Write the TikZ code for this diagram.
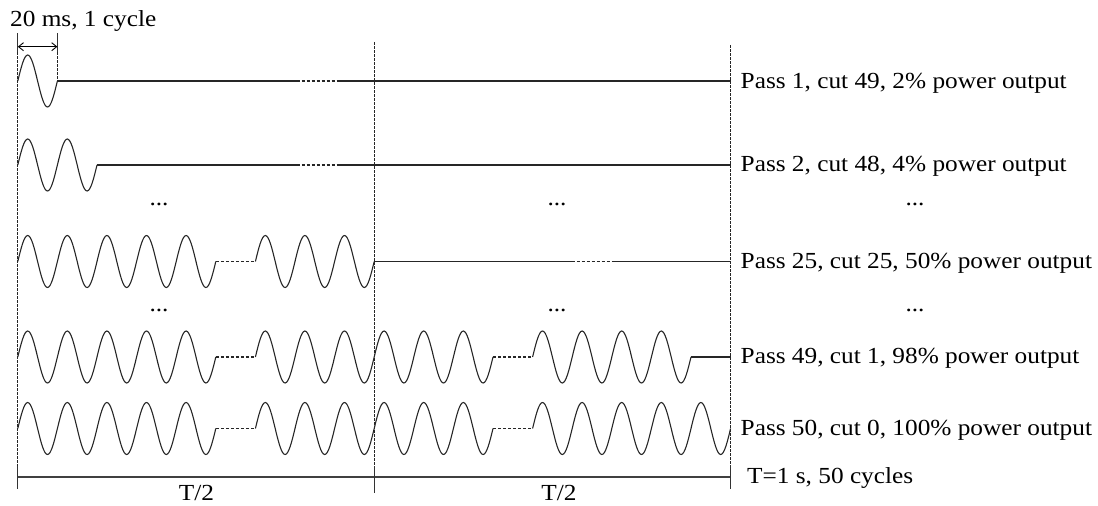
\documentclass[tikz,border=0pt]{standalone}
\usepackage{fontspec}
\setmainfont[FakeStretch=1.1]{Liberation Serif}
\usetikzlibrary{arrows.meta}
\def\wL{17.8}
\def\wP{39.6}
\def\wM{374.2}
\def\wR{730.6}
\tikzset{
  wave/.style={line width=1.1pt, black!85},
  gapline/.style={line width=1.1pt, black!85, dash pattern=on 3pt off 2pt},
  guide/.style={line width=0.8pt, black!85, dash pattern=on 2.5pt off 1.5pt},
  barline/.style={line width=2pt, black!75},
  tickline/.style={line width=1.2pt, black!80},
  lbl/.style={font=\fontsize{23}{27}\selectfont, inner sep=0pt, anchor=base west},
  clbl/.style={font=\fontsize{23}{27}\selectfont, inner sep=0pt, anchor=base},
}
\newcommand{\cyc}[3]{\draw[wave] (#1,#2) \foreach \k in {1,...,#3}{ sin ++(9.9,-26) cos ++(9.9,26) sin ++(9.9,26) cos ++(9.9,-26) };}
\begin{document}
\begin{tikzpicture}[x=1pt,y=-1pt]
\useasboundingbox (0,0) rectangle (1098,506);
% guides
\draw[tickline] (\wL,33) -- (\wL,52);
\draw[guide] (\wL,52) -- (\wL,477);
\draw[tickline] (\wL+\wP,33) -- (\wL+\wP,52);
\draw[guide] (\wL+\wP,52) -- (\wL+\wP,81);
\draw[guide] (\wM,42) -- (\wM,477);
\draw[guide] (\wR,45) -- (\wR,477);
\draw[line width=0.9pt, {Straight Barb[length=5pt,width=8pt]}-{Straight Barb[length=5pt,width=8pt]}] (\wL,46.7) -- (\wL+\wP,46.7);
\node[lbl] (cyc) at (10,26) {20 ms, 1 cycle};
% row 1
\cyc{\wL}{81}{1}
\draw[wave] (\wL+\wP,81) -- (296.5,81);
\draw[gapline] (296.5,81) -- (338.5,81);
\draw[wave] (338.5,81) -- (\wR,81);
% row 2
\cyc{\wL}{165}{2}
\draw[wave] (\wL+2*\wP,165) -- (296.5,165);
\draw[gapline] (296.5,165) -- (338.5,165);
\draw[wave] (338.5,165) -- (\wR,165);
% row 3
\cyc{\wL}{261.5}{5}
\draw[gapline] (\wL+5*\wP,261.5) -- (\wL+6*\wP,261.5);
\cyc{\wL+6*\wP}{261.5}{3}
\draw[wave] (\wM,261.5) -- (571.5,261.5);
\draw[gapline] (571.5,261.5) -- (614,261.5);
\draw[wave] (614,261.5) -- (\wR,261.5);
% row 4
\cyc{\wL}{357}{5}
\draw[gapline] (\wL+5*\wP,357) -- (\wL+6*\wP,357);
\cyc{\wL+6*\wP}{357}{3}
\cyc{\wM}{357}{3}
\draw[gapline] (\wM+3*\wP,357) -- (\wM+4*\wP,357);
\cyc{\wM+4*\wP}{357}{4}
\draw[wave] (\wM+8*\wP,357) -- (\wR,357);
% row 5
\cyc{\wL}{428.5}{5}
\draw[gapline] (\wL+5*\wP,428.5) -- (\wL+6*\wP,428.5);
\cyc{\wL+6*\wP}{428.5}{3}
\cyc{\wM}{428.5}{3}
\draw[gapline] (\wM+3*\wP,428.5) -- (\wM+4*\wP,428.5);
\cyc{\wM+4*\wP}{428.5}{5}
% bar
\draw[barline] (\wL,477) -- (\wR,477);
\draw[tickline] (\wL,466) -- (\wL,489);
\draw[tickline] (\wM,466) -- (\wM,493);
\draw[tickline] (\wR,465) -- (\wR,489);
% labels
\node[lbl] (p1) at (740.5,88.3) {Pass 1, cut 49, 2\% power output};
\node[lbl] (p2) at (740.5,171.7) {Pass 2, cut 48, 4\% power output};
\node[lbl] (p25) at (740.5,268.3) {Pass 25, cut 25, 50\% power output};
\node[lbl] (p49) at (740.5,363.3) {Pass 49, cut 1, 98\% power output};
\node[lbl] (p50) at (740.5,435) {Pass 50, cut 0, 100\% power output};
\node[lbl] (tot) at (747,483.3) {T=1 s, 50 cycles};
\node[clbl] (h1) at (196.5,500) {T/2};
\node[clbl] (h2) at (559,500) {T/2};
\node[clbl] (d1) at (159,205) {...};
\node[clbl] (d2) at (557,205) {...};
\node[clbl] (d3) at (915,205) {...};
\node[clbl] (d4) at (159,311) {...};
\node[clbl] (d5) at (557,311) {...};
\node[clbl] (d6) at (915,311) {...};
\end{tikzpicture}
\end{document}
